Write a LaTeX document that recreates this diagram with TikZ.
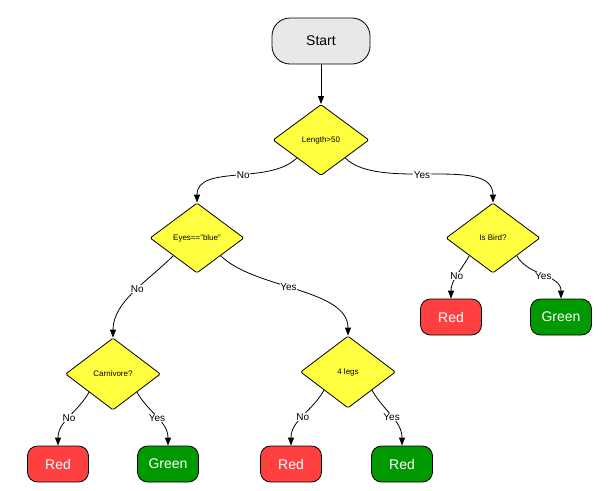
\documentclass[tikz,border=0pt]{standalone}
\usepackage{fontspec}
\setmainfont{Liberation Sans}
\usetikzlibrary{shapes.geometric, arrows.meta}
\definecolor{qyellow}{HTML}{FFFF40}
\definecolor{qred}{HTML}{FF4040}
\definecolor{qgreen}{HTML}{009900}
\definecolor{qgrey}{HTML}{E8E8E8}
\begin{document}
\begin{tikzpicture}[x=1pt, y=-1pt,
    question/.style = {diamond, draw, fill=qyellow, line width=0.8pt, inner sep=0pt,
                       minimum width=96pt, minimum height=71pt, rounded corners=1.5pt, font=\fontsize{8}{9}\selectfont},
    leaf/.style = {draw, line width=0.8pt, rounded corners=10pt, minimum width=61pt,
                   minimum height=36pt, text=white, font=\fontsize{14}{16}\selectfont},
    branch/.style = {-{Triangle[length=8pt,width=6pt]}, line width=0.8pt},
    answer/.style = {fill=white, inner sep=0.5pt, font=\fontsize{10}{12}\selectfont}]
  \useasboundingbox (0,0) rectangle (612,490);

  \node[draw, fill=qgrey, line width=0.8pt, rounded corners=18pt, minimum width=98pt,
        minimum height=46pt, font=\fontsize{14}{16}\selectfont] (start) at (321,41) {Start};

  \node[question] (length) at (321,140) {Length>50};
  \node[question, minimum width=94pt, minimum height=70pt] (eyes) at (197,238) {Eyes=="blue"};
  \node[question, minimum width=94pt, minimum height=70pt] (bird) at (493,238) {Is Bird?};
  \node[question, minimum width=95pt, minimum height=72pt] (carn) at (113,374) {Carnivore?};
  \node[question, minimum width=95pt, minimum height=72pt] (legs) at (348,372) {4 legs};

  \node[leaf, fill=qred] (red1) at (58,464) {Red};
  \node[leaf, fill=qgreen] (green1) at (168,464) {Green};
  \node[leaf, fill=qred] (red2) at (291,464) {Red};
  \node[leaf, fill=qgreen] (red3) at (402,464) {Red};
  \node[leaf, fill=qred] (red4) at (451,317) {Red};
  \node[leaf, fill=qgreen] (green2) at (561,317) {Green};

  \draw[branch] (start) -- (length);

  \draw[branch] (length.south west) to[out=225, in=90, looseness=0.9]
      node[answer, pos=0.45] {No} (eyes.north);
  \draw[branch] (length.south east) to[out=-45, in=90, looseness=0.8]
      node[answer, pos=0.45] {Yes} (bird.north);

  \draw[branch] (eyes.south west) to[out=225, in=90, looseness=0.9]
      node[answer, pos=0.45] {No} (carn.north);
  \draw[branch] (eyes.south east) to[out=-45, in=90, looseness=0.8]
      node[answer, pos=0.45] {Yes} (legs.north);

  \draw[branch] (bird.south west) to[out=240, in=90]
      node[answer, pos=0.5] {No} (red4.north);
  \draw[branch] (bird.south east) to[out=-60, in=90]
      node[answer, pos=0.5] {Yes} (green2.north);

  \draw[branch] (carn.south west) to[out=240, in=90]
      node[answer, pos=0.5] {No} (red1.north);
  \draw[branch] (carn.south east) to[out=-60, in=90]
      node[answer, pos=0.5] {Yes} (green1.north);

  \draw[branch] (legs.south west) to[out=240, in=90]
      node[answer, pos=0.5] {No} (red2.north);
  \draw[branch] (legs.south east) to[out=-60, in=90]
      node[answer, pos=0.5] {Yes} (red3.north);
\end{tikzpicture}
\end{document}
